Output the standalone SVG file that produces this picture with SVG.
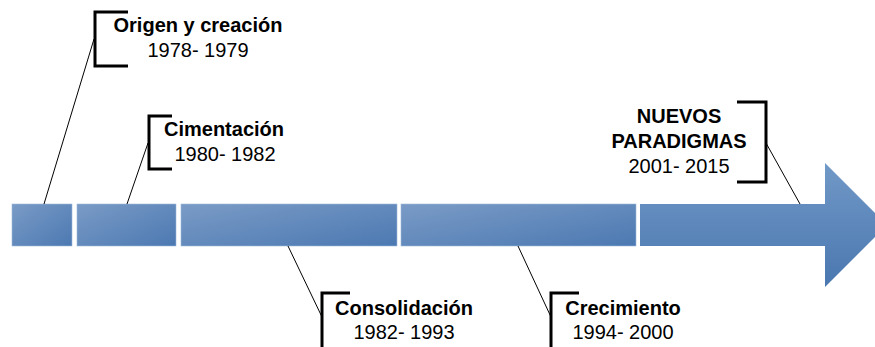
<svg xmlns="http://www.w3.org/2000/svg" width="875" height="347" viewBox="0 0 875 347">
<defs>
<linearGradient id="g" x1="0" y1="0" x2="1" y2="1">
<stop offset="0" stop-color="#7a9bc6"/>
<stop offset="1" stop-color="#4c79b2"/>
</linearGradient>
<linearGradient id="ga" x1="0" y1="0" x2="0" y2="1">
<stop offset="0" stop-color="#7199c7"/>
<stop offset="1" stop-color="#4a77b0"/>
</linearGradient>
<style>
.seg{fill:url(#g);stroke:#9fb8d9;stroke-width:0.6}
.br{fill:none;stroke:#000;stroke-width:3}
.ln{stroke:#000;stroke-width:1;fill:none}
.t{font-family:"Liberation Sans",Arial,sans-serif;font-size:20px;fill:#000;text-anchor:middle}
.b{font-weight:bold}
</style>
</defs>
<g id="timeline">
<rect class="seg" x="12" y="204" width="60" height="42"/>
<rect class="seg" x="77" y="204" width="99" height="42"/>
<rect class="seg" x="181" y="204" width="216" height="42"/>
<rect class="seg" x="401" y="204" width="235" height="42"/>
<path d="M640 204 H825 V163 L887 225 L825 287 V246 H640 Z" fill="url(#ga)"/>
</g>
<g id="connectors">
<line class="ln" x1="94" y1="39" x2="44" y2="204"/>
<line class="ln" x1="148" y1="143" x2="127" y2="204"/>
<line class="ln" x1="322" y1="317" x2="288" y2="246"/>
<line class="ln" x1="551" y1="317" x2="518" y2="246"/>
<line class="ln" x1="766" y1="143" x2="800" y2="204"/>
</g>
<g id="n1">
<path class="br" d="M128 12 H95 V66 H128"/>
<text class="t b" x="198" y="32">Origen y creación</text>
<text class="t" x="198" y="57">1978- 1979</text>
</g>
<g id="n2">
<path class="br" d="M172 116 H149 V169 H172"/>
<text class="t b" x="224" y="136">Cimentación</text>
<text class="t" x="225" y="161">1980- 1982</text>
</g>
<g id="n3">
<path class="br" d="M350 293 H322 V350"/>
<text class="t b" x="404" y="315">Consolidación</text>
<text class="t" x="404" y="339">1982- 1993</text>
</g>
<g id="n4">
<path class="br" d="M579 293 H551 V350"/>
<text class="t b" x="623" y="315">Crecimiento</text>
<text class="t" x="623" y="339">1994- 2000</text>
</g>
<g id="n5">
<path class="br" d="M737 102 H766 V182 H737"/>
<text class="t b" x="679" y="123">NUEVOS</text>
<text class="t b" x="679" y="148">PARADIGMAS</text>
<text class="t" x="679" y="173">2001- 2015</text>
</g>
</svg>
